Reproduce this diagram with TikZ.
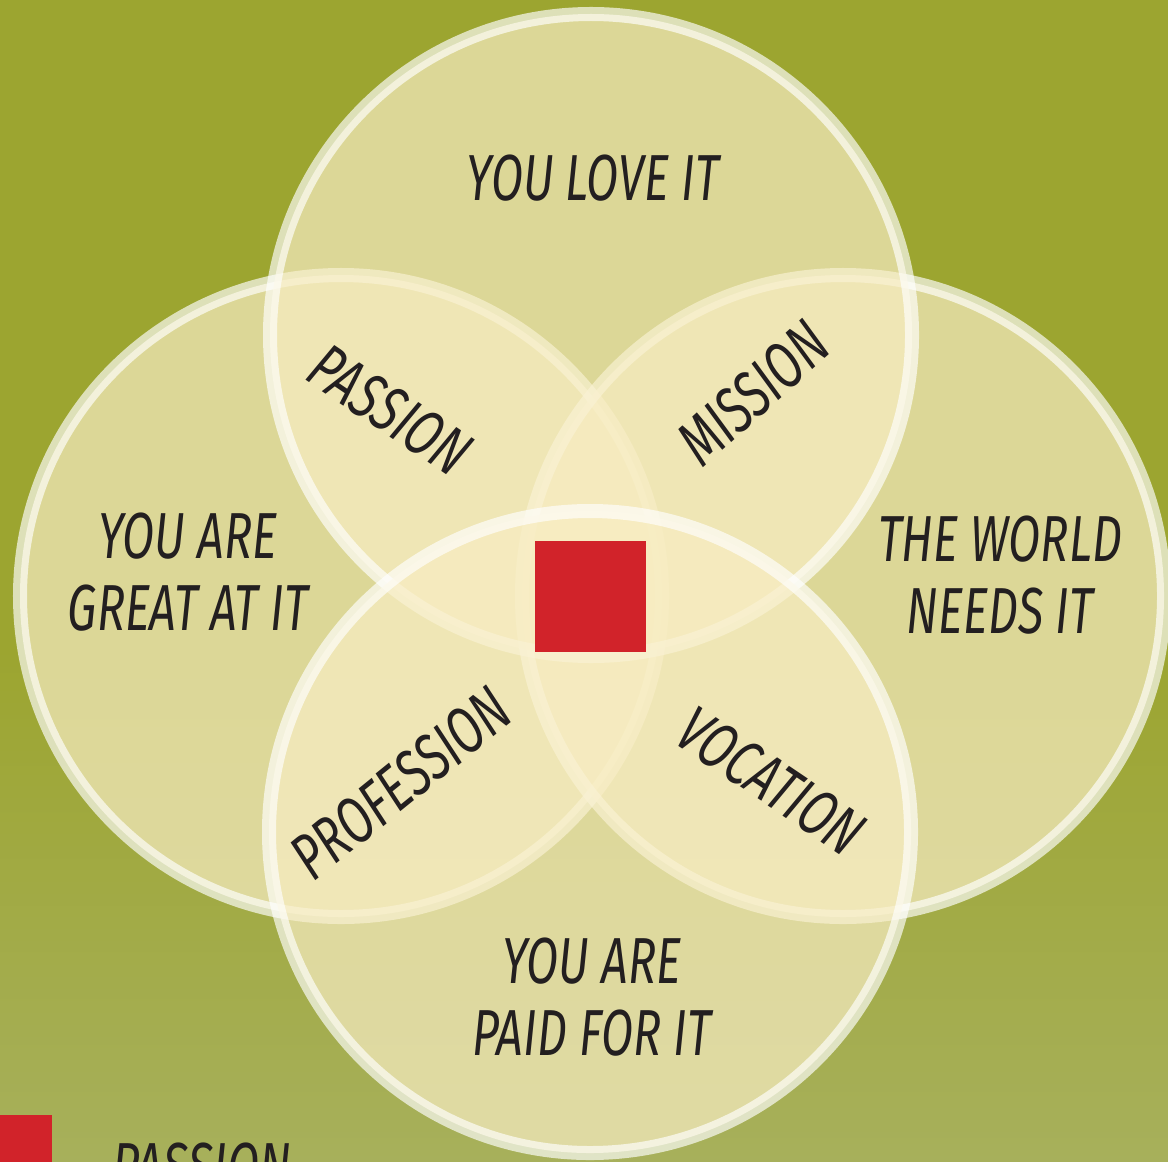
\documentclass[tikz,border=0pt]{standalone}
\usepackage{fontspec}
\usepackage{xcolor}
\usepackage{tikz}
\usetikzlibrary{positioning}
\newfontfamily\handfont{Fira Sans}[FakeStretch=0.72]
\definecolor{bgtop}{HTML}{9CA530}
\definecolor{bgbottom}{HTML}{A7B05B}
\definecolor{circfill}{HTML}{F8EDC3}
\definecolor{squarered}{HTML}{D1232A}
\definecolor{inkdark}{HTML}{231F20}

\begin{document}
\begin{tikzpicture}[x=0.01cm, y=-0.01cm,
	circ/.style={fill=circfill, fill opacity=0.7, draw=white, draw opacity=0.66, line width=0.14cm},
	word/.style={font=\handfont\itshape\fontsize{18.5}{20.5}\selectfont, text=inkdark, align=center, inner sep=0pt}]
			\useasboundingbox (0,0) rectangle (1168,1161);
			
			%% fundo
			\fill[bgtop] (0,0) rectangle (1168,650);
			\shade[top color=bgtop, bottom color=bgbottom] (0,649) rectangle (1168,1161);
			
			%% circulos
			\draw[circ] (341,596) circle (321);
			\draw[circ] (843,596) circle (321);
			\draw[circ] (591,335) circle (321);
			\draw[circ] (590,832) circle (321);
			
			%% centro
			\fill[squarered] (535,541) rectangle (646,652);
			
			%% textos
			\node[word] (love) at (593,178) {YOU LOVE IT};
			\node[word] (great) at (188,572) {YOU ARE\\GREAT AT IT};
			\node[word] (world) at (1000,575) {THE WORLD\\NEEDS IT};
			\node[word] (paid) at (592,997) {YOU ARE\\PAID FOR IT};
			
			\node[word, rotate=-34] (passion) at (390,410) {PASSION};
			\node[word, rotate=42] (mission) at (753,393) {MISSION};
			\node[word, rotate=39] (profession) at (401,783) {PROFESSION};
			\node[word, rotate=-34] (vocation) at (771,781) {VOCATION};
			
			%% legenda
			\fill[squarered] (0,1115) rectangle (52,1170);
			\node[word, anchor=base west] (legend) at (112,1188) {PASSION};
		\end{tikzpicture}
\end{document}
